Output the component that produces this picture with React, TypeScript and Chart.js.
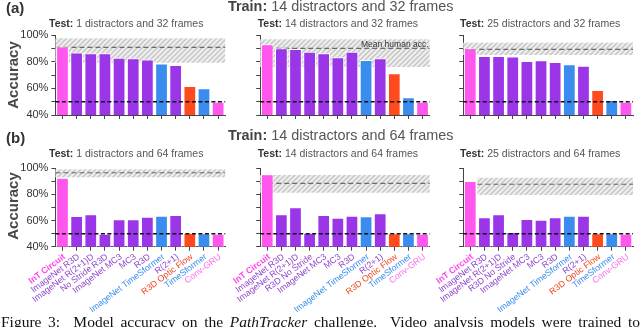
import React, { useEffect, useRef } from 'react';
import { Chart, registerables } from 'chart.js';

Chart.register(...registerables);

const SANS = "'Liberation Sans', Arial, Helvetica, sans-serif";

// ---------- data ----------
const labelsLeft = [
  'InT Circuit', 'ImageNet R3D', 'ImageNet R(2+1)D', 'No Stride R3D', 'ImageNet MC3', 'MC3', 'R3D',
  'ImageNet TimeSformer', 'R(2+1)', 'R3D Optic Flow', 'TimeSformer', 'Conv-GRU',
];
const labelsOther = [
  'InT Circuit', 'ImageNet R3D', 'ImageNet R(2+1)D', 'R3D No Stride', 'ImageNet MC3', 'MC3', 'R3D',
  'ImageNet TimeSformer', 'R(2+1)', 'R3D Optic Flow', 'TimeSformer', 'Conv-GRU',
];

// (a) Train: 14 distractors and 32 frames
const acc32Test1 = [91.3, 86.8, 86.3, 86.3, 83.0, 82.5, 81.7, 78.7, 77.5, 61.7, 60.0, 50.0];
const acc32Test14 = [93.0, 90.0, 89.5, 87.5, 86.3, 83.3, 87.5, 81.3, 82.5, 71.3, 53.3, 50.0];
const acc32Test25 = [90.0, 84.3, 84.2, 83.8, 80.5, 81.0, 79.8, 78.0, 77.0, 58.8, 51.3, 50.0];
// (b) Train: 14 distractors and 64 frames
const acc64Test1 = [92.8, 63.5, 64.8, 50.0, 61.0, 61.0, 63.0, 63.7, 64.3, 50.4, 50.3, 50.0];
const acc64Test14 = [95.4, 64.8, 70.2, 50.7, 64.3, 62.2, 63.7, 63.3, 65.6, 50.3, 50.3, 50.0];
const acc64Test25 = [90.3, 62.5, 64.8, 51.3, 61.2, 60.7, 62.5, 63.7, 63.7, 50.3, 50.3, 50.0];

// human accuracy band per panel (a1, a2, a3, b1, b2, b3)
const humanMean = [90.7, 90.0, 89.2, 96.6, 88.5, 87.8];
const humanLow = [79.2, 76.0, 85.0, 93.1, 81.3, 79.6];
const humanHigh = [97.5, 96.8, 94.3, 99.2, 94.9, 92.8];
const bandStartIndex = [0, 0, 0, 0, 0, 1];
const chanceLevel = 50;

const yMin = 40;
const yMax = 100;
const yStep = 10;

const PINK = '#ff57ee';
const PURPLE = '#9a35e8';
const BLUE = '#3a8cee';
const RED = '#ff4a1e';
const barColors = [PINK, PURPLE, PURPLE, PURPLE, PURPLE, PURPLE, PURPLE, BLUE, PURPLE, RED, BLUE, PINK];
const labelColors = ['#ff45ee', '#8e45cc', '#8e45cc', '#8e45cc', '#8e45cc', '#8e45cc', '#8e45cc',
  '#3a8cee', '#8e45cc', '#f0461e', '#3a8cee', '#ff6cf0'];

const rowTitles = ['14 distractors and 32 frames', '14 distractors and 64 frames'];
const testTitles = [
  '1 distractors and 32 frames', '14 distractors and 32 frames', '25 distractors and 32 frames',
  '1 distractors and 64 frames', '14 distractors and 64 frames', '25 distractors and 64 frames',
];

// ---------- layout ----------
const W = 640;
const H = 327;
const rows = [
  { top: 35, bottom: 115, xHeight: 10 },
  { top: 168.3, bottom: 246.7, xHeight: 72 },
];
const cols = [
  { left: 55.4, right: 225.2 },
  { left: 260.2, right: 429.6 },
  { left: 463.2, right: 633 },
];
const Y_W = 40;

let hatchPattern: CanvasPattern | null = null;
function getPattern(ctx: CanvasRenderingContext2D) {
  if (hatchPattern) return hatchPattern;
  const s = 5;
  const c = document.createElement('canvas');
  c.width = s; c.height = s;
  const g = c.getContext('2d')!;
  g.fillStyle = '#efefef';
  g.fillRect(0, 0, s, s);
  g.strokeStyle = '#c6c6c6';
  g.lineWidth = 1.5;
  g.beginPath();
  g.moveTo(-1, s + 1); g.lineTo(s + 1, -1);
  g.moveTo(-1, 1); g.lineTo(1, -1);
  g.moveTo(s - 1, s + 1); g.lineTo(s + 1, s - 1);
  g.stroke();
  hatchPattern = ctx.createPattern(c, 'repeat');
  return hatchPattern;
}

const bandPlugin = {
  id: 'humanBand',
  beforeDatasetsDraw(chart: any, _args: any, opts: any) {
    const { ctx, chartArea, scales } = chart;
    const x = scales.x;
    const y = scales.y;
    const step = x.getPixelForValue(1) - x.getPixelForValue(0);
    const x0 = opts.start > 0 ? x.getPixelForValue(opts.start) - step / 2 : chartArea.left;
    const x1 = chartArea.right;
    const yT = y.getPixelForValue(opts.hi);
    const yB = y.getPixelForValue(opts.lo);
    ctx.save();
    ctx.fillStyle = getPattern(ctx) || '#e6e6e6';
    ctx.fillRect(x0, yT, x1 - x0, yB - yT);
    const ym = y.getPixelForValue(opts.mean);
    ctx.setLineDash([5, 3]);
    ctx.strokeStyle = '#6a6a6a';
    ctx.lineWidth = 1.2;
    ctx.beginPath();
    ctx.moveTo(x0, ym);
    ctx.lineTo(x1, ym);
    ctx.stroke();
    ctx.restore();
  },
  afterDatasetsDraw(chart: any, _args: any, opts: any) {
    const { ctx, chartArea, scales } = chart;
    const yc = scales.y.getPixelForValue(opts.chance);
    ctx.save();
    ctx.setLineDash([4, 2.5]);
    ctx.strokeStyle = '#111111';
    ctx.lineWidth = 1.5;
    ctx.beginPath();
    ctx.moveTo(chartArea.left, yc);
    ctx.lineTo(chartArea.right, yc);
    ctx.stroke();
    ctx.restore();
  },
};

const panels = [
  { values: acc32Test1, labels: labelsLeft, row: 0, col: 0 },
  { values: acc32Test14, labels: labelsOther, row: 0, col: 1 },
  { values: acc32Test25, labels: labelsOther, row: 0, col: 2 },
  { values: acc64Test1, labels: labelsLeft, row: 1, col: 0 },
  { values: acc64Test14, labels: labelsOther, row: 1, col: 1 },
  { values: acc64Test25, labels: labelsOther, row: 1, col: 2 },
];

function Panel({ index }: { index: number }) {
  const ref = useRef<HTMLCanvasElement>(null);
  useEffect(() => {
    const p = panels[index];
    const r = rows[p.row];
    const c = cols[p.col];
    const showLabels = p.row === 1;
    const showY = p.col === 0;
    const chart = new Chart(ref.current!, {
      type: 'bar',
      data: {
        labels: p.labels,
        datasets: [{
          data: p.values,
          backgroundColor: barColors,
          borderColor: '#ffffff',
          borderWidth: 1,
          barPercentage: 0.9,
          categoryPercentage: 1,
        }],
      },
      plugins: [bandPlugin],
      options: {
        animation: false,
        responsive: false,
        devicePixelRatio: 1,
        events: [],
        layout: {
          padding: {
            left: c.left - Y_W,
            right: W - c.right,
            top: r.top,
            bottom: H - r.bottom - r.xHeight,
          },
        },
        plugins: {
          legend: { display: false },
          tooltip: { enabled: false },
          humanBand: {
            lo: humanLow[index],
            hi: humanHigh[index],
            mean: humanMean[index],
            start: bandStartIndex[index],
            chance: chanceLevel,
          },
        } as any,
        scales: {
          x: {
            type: 'category',
            offset: true,
            grid: {
              display: true,
              drawOnChartArea: false,
              drawTicks: true,
              tickLength: 4,
              offset: false,
              color: '#444444',
              lineWidth: 1,
            },
            border: { display: true, color: '#444444', width: 1 },
            ticks: {
              autoSkip: false,
              maxRotation: 37,
              minRotation: 37,
              padding: 1,
              labelOffset: 2,
              callback: (_v: any, i: number) => (showLabels ? p.labels[i] : ''),
              color: (ctx: any) => labelColors[ctx.index] || '#444',
              font: (ctx: any) => ({ family: SANS, size: 8.8, weight: ctx.index === 0 ? 'bold' : 'normal' }),
            },
            afterFit: (s: any) => { s.height = r.xHeight; },
          } as any,
          y: {
            min: yMin,
            max: yMax,
            grid: {
              display: true,
              drawOnChartArea: false,
              drawTicks: true,
              tickLength: 4,
              color: '#444444',
            },
            border: { display: true, color: '#444444', width: 1 },
            ticks: {
              stepSize: yStep,
              autoSkip: false,
              padding: 3,
              color: '#333333',
              font: { family: SANS, size: 11 },
              callback: (v: any) => (showY && (v - yMin) % 20 === 0 ? `${v}%` : ''),
            },
            afterFit: (s: any) => { s.width = Y_W; },
          } as any,
        },
      },
    });
    return () => chart.destroy();
  }, [index]);
  return (
    <canvas
      ref={ref}
      width={W}
      height={H}
      style={{ position: 'absolute', left: 0, top: 0, width: W, height: H }}
    />
  );
}

const textBase: React.CSSProperties = { position: 'absolute', whiteSpace: 'nowrap', fontFamily: SANS };

export default function App() {
  const testLefts = [49, 257.7, 460];
  const testTops = [22.7, 152.7];
  const trainTops = [6, 135];
  return (
    <div style={{ position: 'absolute', left: 0, top: 0, width: W, height: H, overflow: 'hidden', background: '#ffffff' }}>
      {panels.map((_, i) => <Panel key={i} index={i} />)}

      {['(a)', '(b)'].map((t, i) => (
        <div key={t} style={{ ...textBase, left: 6, top: [8, 138][i] - 8, fontSize: 15, lineHeight: '16px', fontWeight: 'bold', color: '#333' }}>{t}</div>
      ))}

      {rowTitles.map((t, i) => (
        <div key={t} style={{ ...textBase, left: 228, top: trainTops[i] - 8, fontSize: 14.4, lineHeight: '16px', color: '#555' }}>
          <span style={{ fontWeight: 'bold', color: '#444' }}>Train:</span> {t}
        </div>
      ))}

      {testTitles.map((t, i) => (
        <div key={i} style={{ ...textBase, left: testLefts[i % 3], top: testTops[Math.floor(i / 3)] - 6, fontSize: 10.5, lineHeight: '12px', color: '#555' }}>
          <span style={{ fontWeight: 'bold', color: '#333' }}>Test:</span> {t}
        </div>
      ))}

      {[75, 206].map((cy) => (
        <div key={cy} style={{ ...textBase, left: 13, top: cy, fontSize: 15, lineHeight: '16px', fontWeight: 'bold', color: '#484848', transform: 'translate(-50%, -50%) rotate(-90deg)' }}>Accuracy</div>
      ))}

      <div style={{ ...textBase, left: 361, top: 38.5, fontSize: 8.5, lineHeight: '10px', color: '#333' }}>Mean human acc.</div>

      <div style={{ position: 'absolute', left: 1, top: 313.9, width: 639, fontFamily: "'Liberation Serif', 'Times New Roman', serif", fontSize: 15.5, lineHeight: '16px', color: '#111', textAlign: 'justify', textAlignLast: 'justify' as any, whiteSpace: 'nowrap' }}>
        Figure 3:&nbsp; Model accuracy on the <i>PathTracker</i> challenge.&nbsp; Video analysis models were trained to
      </div>
    </div>
  );
}
